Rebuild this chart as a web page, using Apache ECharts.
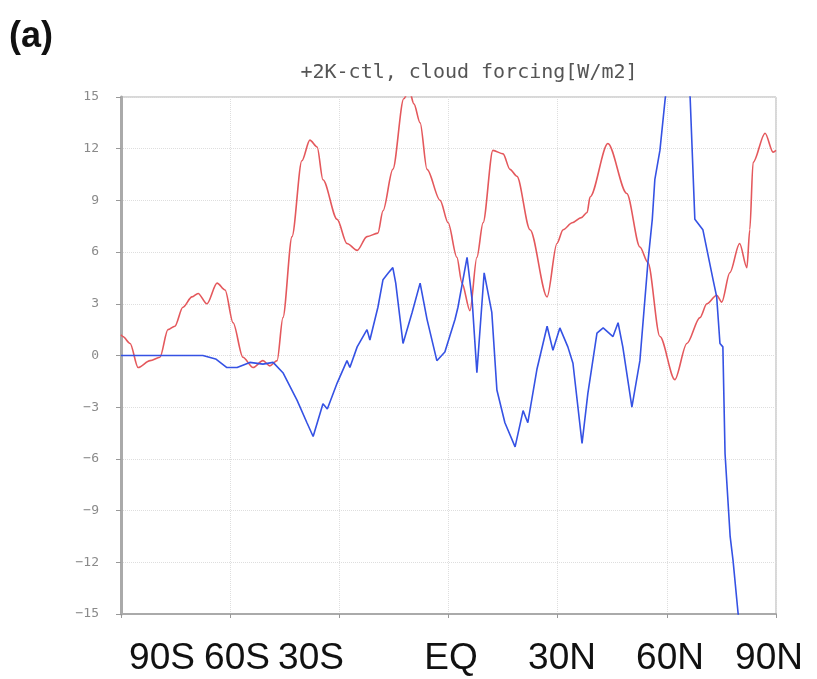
<!DOCTYPE html>
<html>
<head>
<meta charset="utf-8">
<script src="https://cdn.jsdelivr.net/npm/echarts@6/dist/echarts.min.js"></script>
<style>
html,body{margin:0;padding:0;background:#fff;}
#chart{width:817px;height:679px;}
</style>
</head>
<body>
<div id="chart"></div>
<script>
// ---- data ----
const panelLabel = "(a)";
const chartTitle = "+2K-ctl, cloud forcing[W/m2]";
const latTickLabels = ["90S", "60S", "30S", "EQ", "30N", "60N", "90N"];
const yTicks = [-15, -12, -9, -6, -3, 0, 3, 6, 9, 12, 15];

// red curve (latitude, W/m2)
const redLat = [-90, -89.5, -87.5, -85.3, -82.0, -79.3, -77.1, -75.2, -73.0, -70.5, -68.8, -66.4, -63.6, -61.4, -59.2,
  -56.5, -53.7, -51.0, -49.1, -47.1, -45.5, -43.0, -40.3, -38.1, -36.1, -34.5, -30.6, -27.9, -25.1, -22.4,
  -19.4, -18.0, -15.3, -12.3, -10.8, -9.5, -7.8, -5.9, -2.3, -0.1, 2.3, 3.7, 5.9, 7.8, 9.5, 12.2, 15.0, 16.9,
  18.8, 22.4, 27.1, 29.8, 31.5, 34.0, 36.5, 38.1, 38.9, 43.8, 49.0, 52.6, 54.8, 58.1, 62.2, 65.5, 69.1, 71.0,
  73.7, 75.1, 77.3, 80.0, 82.0, 82.8, 83.7, 87.0, 89.2, 90];
const redVal = [1.2, 1.1, 0.7, -0.7, -0.3, -0.1, 1.5, 1.7, 2.8, 3.4, 3.6, 3.0, 4.2, 3.8, 1.9,
  -0.1, -0.7, -0.3, -0.6, -0.3, 2.2, 6.9, 11.3, 12.5, 12.1, 10.2, 7.9, 6.5, 6.1, 6.9,
  7.1, 8.4, 10.8, 14.9, 15.4, 14.6, 13.5, 10.8, 9.0, 7.7, 5.7, 4.2, 2.6, 5.7, 7.7, 11.9, 11.7, 10.8,
  10.4, 7.3, 3.4, 6.5, 7.3, 7.7, 8.0, 8.3, 9.2, 12.3, 9.4, 6.3, 5.4, 1.1, -1.4, 0.7, 2.2, 3.0,
  3.5, 3.1, 4.8, 6.5, 5.1, 7.3, 11.2, 12.9, 11.8, 11.9];

// blue curve (latitude, W/m2)
const blueLat = [-90, -80, -67.5, -64.0, -60.9, -58.1, -54.6, -51.0, -48.2, -45.5, -41.6, -38.9, -37.2, -34.5, -33.3,
  -30.6, -27.9, -27.1, -25.1, -22.4, -21.6, -19.4, -18.0, -16.5, -15.3, -14.5, -12.5, -10.0, -7.8, -5.9, -3.2,
  -1.0, 1.8, 2.6, 5.1, 6.5, 7.8, 9.8, 11.9, 13.3, 15.5, 18.3, 20.5, 21.8, 24.3, 27.1, 28.7, 30.6, 32.8, 34.2,
  36.7, 38.3, 40.8, 42.5, 45.2, 46.6, 47.9, 50.4, 52.6, 54.8, 56.0, 56.7, 58.1, 59.5, 61.5, 64.0, 66.4, 67.7,
  69.9, 72.7, 73.7, 74.6, 75.4, 76.0, 77.4, 78.2, 79.6, 82.0, 86.0, 90];
const blueVal = [0, 0, 0, -0.2, -0.7, -0.7, -0.4, -0.5, -0.4, -1.0, -2.6, -3.9, -4.7, -2.8, -3.1,
  -1.6, -0.3, -0.7, 0.5, 1.5, 0.9, 2.8, 4.4, 4.8, 5.1, 4.2, 0.7, 2.5, 4.2, 2.1, -0.3,
  0.2, 2.1, 2.8, 5.7, 3.2, -1.0, 4.8, 2.5, -2.0, -3.9, -5.3, -3.2, -3.9, -0.8, 1.7, 0.3, 1.6, 0.5, -0.45,
  -5.1, -2.2, 1.3, 1.6, 1.1, 1.9, 0.5, -3.0, -0.3, 5.4, 7.9, 10.2, 11.9, 14.8, 18.5, 19.5, 15.0, 7.9,
  7.3, 4.4, 3.4, 0.7, 0.5, -5.7, -10.5, -11.9, -15.0, -18.0, -21.0, -23.0];

// ---- chart ----
const zip = (xs, ys) => xs.map((x, i) => [x, ys[i]]);
const chart = echarts.init(document.getElementById('chart'), null, {renderer: 'canvas'});

const gridLeft = 121, gridRight = 41, gridTop = 97, gridBottom = 65;
const labelCenters = [162, 237, 311, 451, 562, 670, 769];

const graphics = [
  {type: 'text', left: 9, top: 19, style: {text: panelLabel, font: 'bold 36px "Liberation Sans", Arial, sans-serif', fill: '#111'}},
  {type: 'text', x: 469, y: 73, style: {text: chartTitle, font: '20px "DejaVu Sans Mono", monospace', fill: '#555', textAlign: 'center', textVerticalAlign: 'middle'}}
];
latTickLabels.forEach((t, i) => {
  graphics.push({type: 'text', x: labelCenters[i], y: 659, style: {text: t, font: '37px "Liberation Sans", Arial, sans-serif', fill: '#111', textAlign: 'center', textVerticalAlign: 'middle'}});
});

chart.setOption({
  animation: false,
  backgroundColor: '#ffffff',
  grid: {left: gridLeft, right: gridRight, top: gridTop, bottom: gridBottom, show: true, borderColor: '#b0b0b0', borderWidth: 1},
  graphic: graphics,
  xAxis: {
    type: 'value', min: -90, max: 90, interval: 30,
    axisLine: {show: true, onZero: false, lineStyle: {color: '#aaaaaa', width: 2}},
    axisTick: {show: true, length: 4, lineStyle: {color: '#999'}},
    axisLabel: {show: false},
    splitLine: {show: true, lineStyle: {color: '#dedede', type: 'dotted', width: 1}}
  },
  yAxis: {
    type: 'value', min: -15, max: 15, interval: 3,
    axisLine: {show: true, onZero: false, lineStyle: {color: '#aaaaaa', width: 3}},
    axisTick: {show: true, length: 5, lineStyle: {color: '#999'}},
    axisLabel: {show: true, color: '#8a8a8a', fontFamily: '"DejaVu Sans Mono", monospace', fontSize: 13, margin: 22,
      formatter: v => yTicks.includes(v) ? String(v).replace('-', '\u2212') : ''},
    splitLine: {show: true, lineStyle: {color: '#dedede', type: 'dotted', width: 1}}
  },
  series: [
    {type: 'line', data: zip(redLat, redVal), showSymbol: false, clip: true, smooth: 0.3, smoothMonotone: 'x',
      lineStyle: {color: '#e4585c', width: 1.6}, z: 3},
    {type: 'line', data: zip(blueLat, blueVal), showSymbol: false, clip: true,
      lineStyle: {color: '#3552e4', width: 1.6}, z: 4}
  ]
});
</script>
</body>
</html>
